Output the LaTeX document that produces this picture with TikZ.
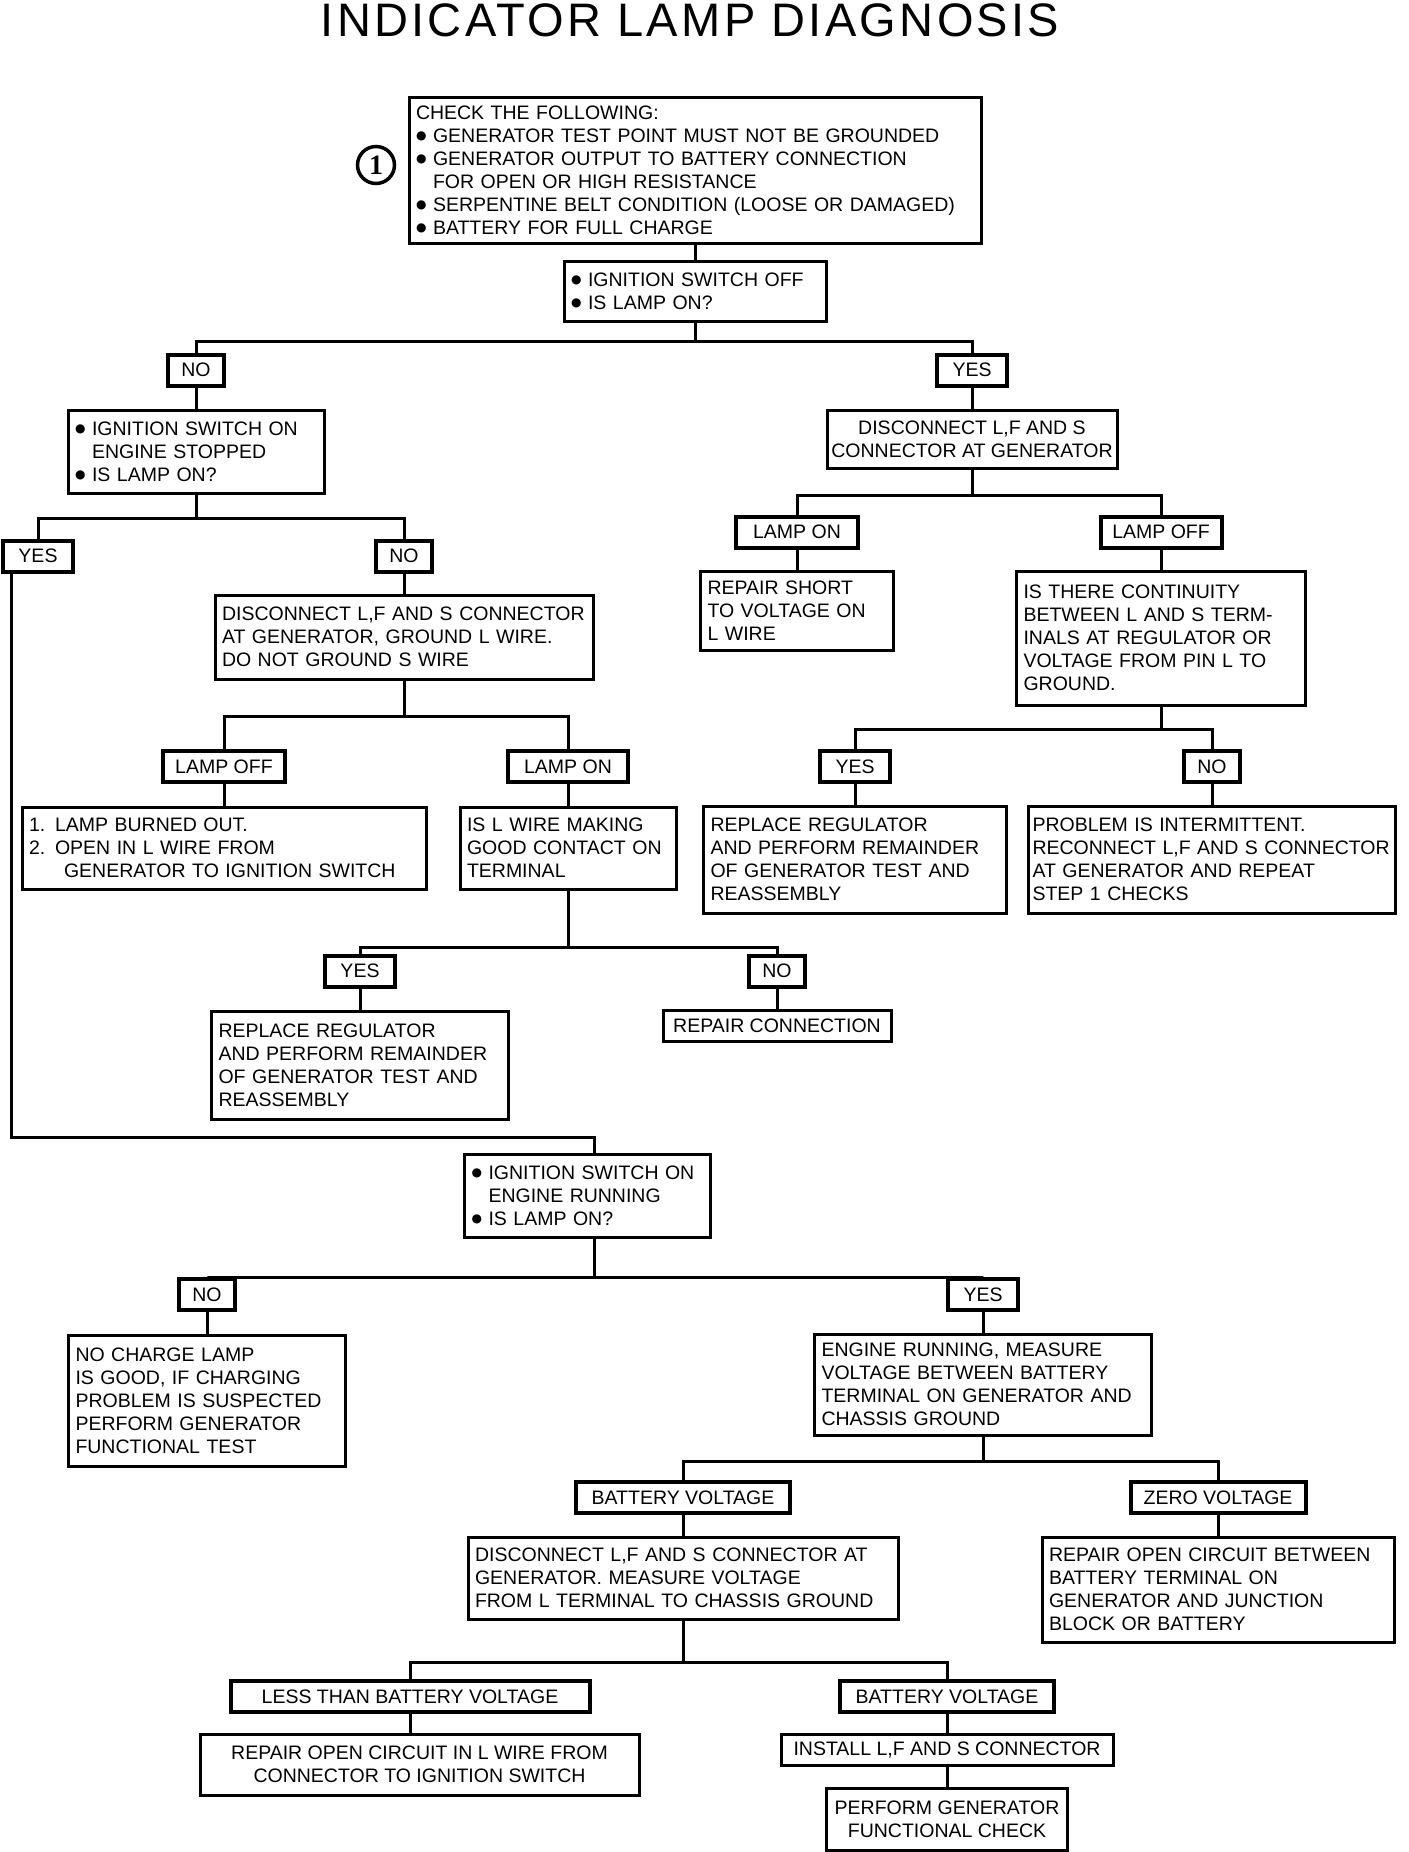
\documentclass[tikz,border=0pt]{standalone}
\usepackage{fontspec}
\setmainfont{Liberation Sans}
\newfontfamily\titlefont[LetterSpace=7]{Liberation Sans}
\newfontfamily\numfont{Liberation Serif}
\newfontfamily\symfont{DejaVu Sans}
\usetikzlibrary{positioning}
\newcommand{\bul}{\makebox[17pt][l]{\raisebox{3pt}{\symfont\fontsize{12}{12}\selectfont\symbol{"25CF}}}}
\newcommand{\indt}{\hspace*{17pt}}

\begin{document}
\begin{tikzpicture}[x=1pt,y=-1pt,font=\fontsize{19.5}{23}\selectfont,line join=miter]
\tikzset{box/.style={draw,line width=3pt,align=left,inner xsep=7pt,inner ysep=3pt}, cbox/.style={draw,line width=3pt,align=center,inner xsep=7pt,inner ysep=3pt}, lbl/.style={draw,line width=4pt,minimum height=31pt,inner xsep=4pt,inner ysep=2pt}, ln/.style={line width=3pt}}
\fill[white] (0,0) rectangle (1408,1852);
\useasboundingbox (0,0) rectangle (1408,1852);
\node[font=\titlefont\fontsize{47}{50}\selectfont] (ttl) at (690,20) {INDICATOR LAMP DIAGNOSIS};
\node[circle,draw,line width=3.5pt,minimum size=37pt,inner sep=0pt,font=\numfont\bfseries\fontsize{28}{28}\selectfont] (one) at (376,165) {1};
\node[box,text width=558pt,minimum height=146pt] (chk) at (695,170) {CHECK THE FOLLOWING:\\ \bul GENERATOR TEST POINT MUST NOT BE GROUNDED\\ \bul GENERATOR OUTPUT TO BATTERY CONNECTION\\ \indt FOR OPEN OR HIGH RESISTANCE\\ \bul SERPENTINE BELT CONDITION (LOOSE OR DAMAGED)\\ \bul BATTERY FOR FULL CHARGE};
\node[box,text width=248pt,minimum height=60pt] (igoff) at (695,291) {\bul IGNITION SWITCH OFF\\ \bul IS LAMP ON?};
\node[lbl,minimum width=56pt] (n1) at (196,370) {NO};
\node[lbl,minimum width=70pt] (y1) at (972,370) {YES};
\node[box,text width=242pt,minimum height=83pt] (igstop) at (196,451.5) {\bul IGNITION SWITCH ON\\ \indt ENGINE STOPPED\\ \bul IS LAMP ON?};
\node[cbox,inner xsep=2pt,minimum width=290pt,minimum height=58pt] (disc2) at (972,439) {DISCONNECT L,F AND S\\ CONNECTOR AT GENERATOR};
\node[lbl,minimum width=70pt] (y2) at (38,556) {YES};
\node[lbl,minimum width=56pt] (n2) at (404,556) {NO};
\node[box,text width=364pt,minimum height=84pt] (disc1) at (404,637) {DISCONNECT L,F AND S CONNECTOR\\ AT GENERATOR, GROUND L WIRE.\\ DO NOT GROUND S WIRE};
\node[lbl,minimum width=122pt] (lo1) at (224,766.5) {LAMP OFF};
\node[lbl,minimum width=120pt] (lon1) at (568,766.5) {LAMP ON};
\node[box,text width=390pt,minimum height=82pt] (burn) at (224,848) {1. LAMP BURNED OUT.\\ 2. OPEN IN L WIRE FROM\\ \hspace*{35pt}GENERATOR TO IGNITION SWITCH};
\node[box,text width=202pt,minimum height=82pt] (lwire) at (568,848) {IS L WIRE MAKING\\ GOOD CONTACT ON\\ TERMINAL};
\node[lbl,minimum width=70pt] (y3) at (360,971) {YES};
\node[lbl,minimum width=56pt] (n3) at (777,971) {NO};
\node[box,text width=283pt,minimum height=108pt] (repreg1) at (360,1065) {REPLACE REGULATOR\\ AND PERFORM REMAINDER\\ OF GENERATOR TEST AND\\ REASSEMBLY};
\node[cbox,minimum width=228pt,minimum height=31pt] (repcon) at (777,1025.5) {REPAIR CONNECTION};
\node[lbl,minimum width=122pt] (lon2) at (797,532) {LAMP ON};
\node[lbl,minimum width=121pt] (lo2) at (1161,532) {LAMP OFF};
\node[box,text width=179pt,minimum height=79pt] (short) at (797,610.5) {REPAIR SHORT\\ TO VOLTAGE ON\\ L WIRE};
\node[box,text width=275pt,minimum height=134pt] (cont) at (1161,638) {IS THERE CONTINUITY\\ BETWEEN L AND S TERM-\\ INALS AT REGULATOR OR\\ VOLTAGE FROM PIN L TO\\ GROUND.};
\node[lbl,minimum width=70pt] (y4) at (855,766.5) {YES};
\node[lbl,minimum width=56pt] (n4) at (1212,766.5) {NO};
\node[box,text width=289pt,minimum height=107pt] (repreg2) at (855,859.5) {REPLACE REGULATOR\\ AND PERFORM REMAINDER\\ OF GENERATOR TEST AND\\ REASSEMBLY};
\node[box,inner xsep=4pt,text width=359pt,minimum height=107pt] (inter) at (1212,859.5) {PROBLEM IS INTERMITTENT.\\ RECONNECT L,F AND S CONNECTOR\\ AT GENERATOR AND REPEAT\\ STEP 1 CHECKS};
\node[box,text width=232pt,minimum height=83pt] (igrun) at (587.5,1195.5) {\bul IGNITION SWITCH ON\\ \indt ENGINE RUNNING\\ \bul IS LAMP ON?};
\node[lbl,minimum width=56pt] (n5) at (207,1294.5) {NO};
\node[lbl,minimum width=70pt] (y5) at (983,1294.5) {YES};
\node[box,text width=263pt,minimum height=131pt] (nochg) at (207,1400.5) {NO CHARGE LAMP\\ IS GOOD, IF CHARGING\\ PROBLEM IS SUSPECTED\\ PERFORM GENERATOR\\ FUNCTIONAL TEST};
\node[box,text width=323pt,minimum height=101pt] (meas) at (983,1384.5) {ENGINE RUNNING, MEASURE\\ VOLTAGE BETWEEN BATTERY\\ TERMINAL ON GENERATOR AND\\ CHASSIS GROUND};
\node[lbl,minimum width=214pt] (bv1) at (683,1497.5) {BATTERY VOLTAGE};
\node[lbl,minimum width=175pt] (zv) at (1218,1497.5) {ZERO VOLTAGE};
\node[box,text width=416pt,minimum height=82pt] (disc3) at (683,1578) {DISCONNECT L,F AND S CONNECTOR AT\\ GENERATOR. MEASURE VOLTAGE\\ FROM L TERMINAL TO CHASSIS GROUND};
\node[box,text width=338pt,minimum height=105pt] (ropen1) at (1218,1589.5) {REPAIR OPEN CIRCUIT BETWEEN\\ BATTERY TERMINAL ON\\ GENERATOR AND JUNCTION\\ BLOCK OR BATTERY};
\node[lbl,minimum width=359pt] (ltbv) at (410,1696.5) {LESS THAN BATTERY VOLTAGE};
\node[lbl,minimum width=214pt] (bv2) at (947,1696.5) {BATTERY VOLTAGE};
\node[cbox,minimum width=439pt,minimum height=61pt] (ropen2) at (419.5,1764.5) {REPAIR OPEN CIRCUIT IN L WIRE FROM\\ CONNECTOR TO IGNITION SWITCH};
\node[cbox,minimum width=332pt,minimum height=31pt] (inst) at (947,1749.5) {INSTALL L,F AND S CONNECTOR};
\node[cbox,minimum width=241pt,minimum height=62pt,below=20pt of inst] (perf) {PERFORM GENERATOR\\ FUNCTIONAL CHECK};
\coordinate (k) at (0,1137);
\draw[ln] (chk) -- (igoff); \draw[ln] (igoff.south) -- ++(0,19) coordinate (b1); \draw[ln] (n1.north) |- (b1) -| (y1.north);
\draw[ln] (n1) -- (igstop); \draw[ln] (y1) -- (disc2);
\draw[ln] (igstop.south) -- ++(0,24) coordinate (b2); \draw[ln] (y2.north) |- (b2) -| (n2.north);
\draw[ln] (n2) -- (disc1); \draw[ln] (disc1.south) -- ++(0,36) coordinate (b3); \draw[ln] (lo1.north) |- (b3) -| (lon1.north);
\draw[ln] (lo1) -- (burn); \draw[ln] (lon1) -- (lwire);
\draw[ln] (lwire.south) -- ++(0,57) coordinate (b4); \draw[ln] (y3.north) |- (b4) -| (n3.north);
\draw[ln] (y3) -- (repreg1); \draw[ln] (n3) -- (repcon);
\draw[ln] (disc2.south) -- ++(0,26) coordinate (b5); \draw[ln] (lon2.north) |- (b5) -| (lo2.north);
\draw[ln] (lon2) -- (short); \draw[ln] (lo2) -- (cont);
\draw[ln] (cont.south) -- ++(0,23) coordinate (b6); \draw[ln] (y4.north) |- (b6) -| (n4.north);
\draw[ln] (y4) -- (repreg2); \draw[ln] (n4) -- (inter);
\draw[ln] ([xshift=-27pt]y2.south) -- ([xshift=-27pt]y2.south |- k) -| ([xshift=6.5pt]igrun.north);
\draw[ln] ([xshift=6.5pt]igrun.south) -- ++(0,39) coordinate (b7); \draw[ln] (n5.north) |- (b7) -| (y5.north);
\draw[ln] (n5) -- (nochg); \draw[ln] (y5) -- (meas);
\draw[ln] (meas.south) -- ++(0,25) coordinate (b8); \draw[ln] (bv1.north) |- (b8) -| (zv.north);
\draw[ln] (bv1) -- (disc3); \draw[ln] (zv) -- (ropen1);
\draw[ln] (disc3.south) -- ++(0,42) coordinate (b9); \draw[ln] (ltbv.north) |- (b9) -| (bv2.north);
\draw[ln] (ltbv.south) -- (ltbv.south |- ropen2.north); \draw[ln] (bv2) -- (inst); \draw[ln] (inst) -- (perf);
\end{tikzpicture}
\end{document}
